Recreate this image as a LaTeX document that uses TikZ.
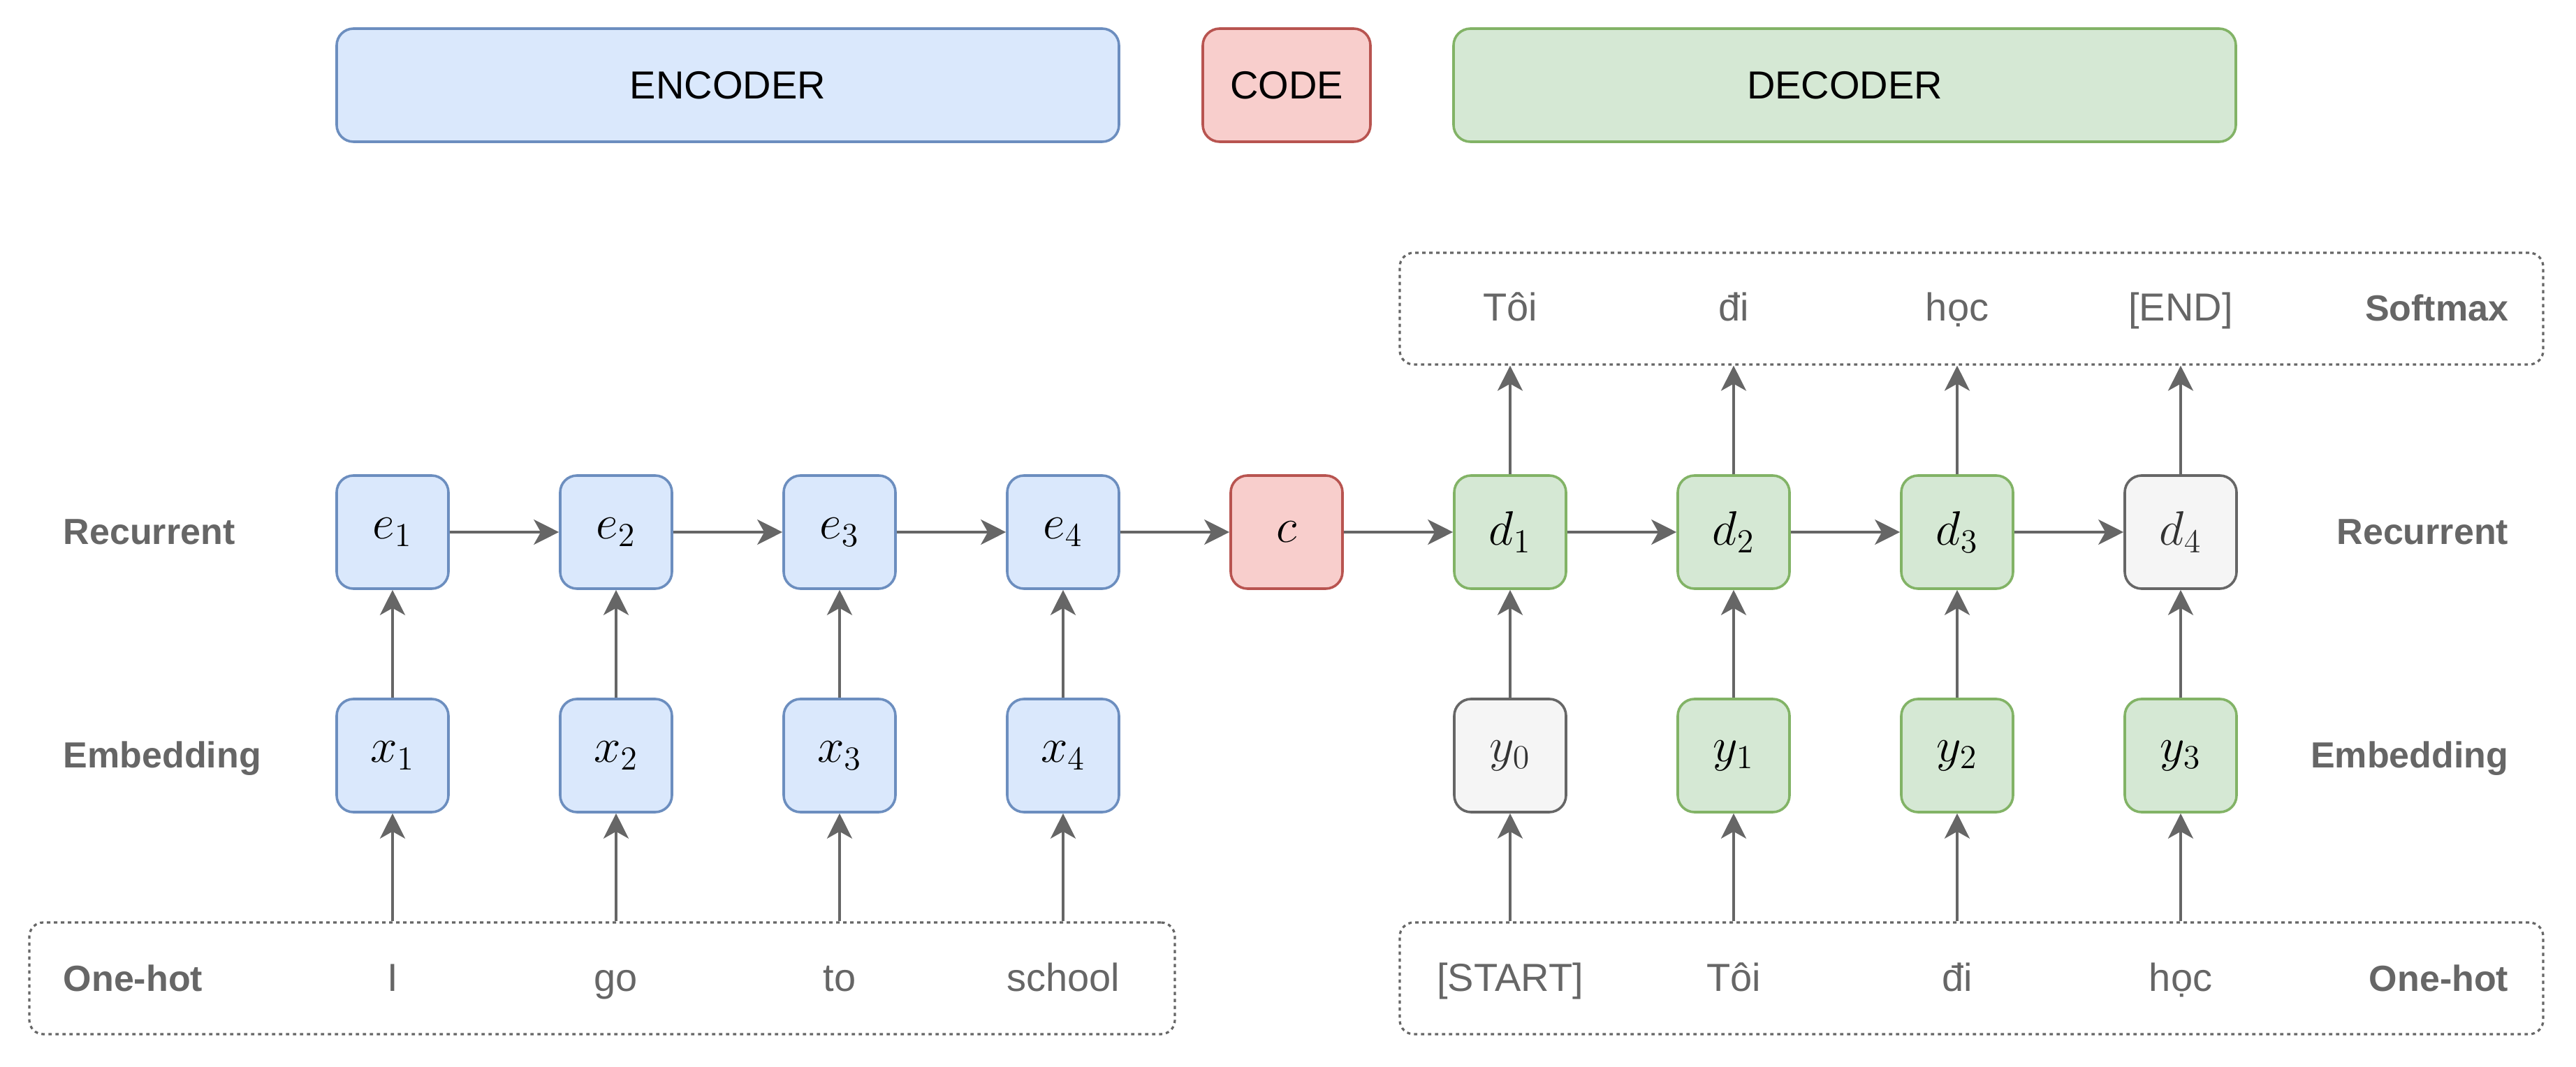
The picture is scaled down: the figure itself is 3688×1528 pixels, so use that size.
\documentclass[tikz,border=0pt]{standalone}
\usepackage[no-math]{fontspec}
\setmainfont{Liberation Sans}
\usetikzlibrary{arrows.meta}
\definecolor{bluefill}{HTML}{DAE8FC}
\definecolor{bluedraw}{HTML}{6C8EBF}
\definecolor{redfill}{HTML}{F8CECC}
\definecolor{reddraw}{HTML}{B85450}
\definecolor{greenfill}{HTML}{D5E8D4}
\definecolor{greendraw}{HTML}{82B366}
\definecolor{greyfill}{HTML}{F5F5F5}
\definecolor{greydraw}{HTML}{666666}
\definecolor{darktext}{HTML}{333333}
\begin{document}
\begin{tikzpicture}[x=0.25pt,y=-0.25pt,line join=round,>={Stealth[length=9pt,width=9pt,inset=2.5pt]}]
	\tikzset{
		cell/.style={draw,rounded corners=6pt,line width=0.9pt,minimum width=40pt,minimum height=40.5pt,inner sep=0pt,font=\fontsize{16.5}{20}\selectfont},
		head/.style={draw,rounded corners=6pt,line width=0.9pt,minimum height=40.5pt,inner sep=0pt,font=\fontsize{14}{16}\selectfont},
		bluebox/.style={fill=bluefill,draw=bluedraw},
		redbox/.style={fill=redfill,draw=reddraw},
		greenbox/.style={fill=greenfill,draw=greendraw},
		greybox/.style={fill=greyfill,draw=greydraw,text=darktext},
		band/.style={draw=greydraw,rounded corners=5pt,line width=0.8pt,dash pattern=on 1.2pt off 1.3pt,minimum height=40pt,inner sep=0pt},
		word/.style={anchor=base,text=greydraw,inner sep=0pt,font=\fontsize{14}{16}\selectfont},
		lab/.style={anchor=base west,text=greydraw,inner sep=0pt,font=\fontsize{13}{15}\selectfont\bfseries},
		labr/.style={lab,anchor=base east},
		link/.style={->,draw=greydraw,line width=1pt}
	}
	\useasboundingbox (0,0) rectangle (3688,1528);
	% Tiêu đề các khối
	\node[head,bluebox,minimum width=280pt] (encoder) at (1042,122) {ENCODER};
	\node[head,redbox,minimum width=60pt] (code) at (1842,122) {CODE};
	\node[head,greenbox,minimum width=280pt] (decoder) at (2641,122) {DECODER};
	% Các dải one-hot và softmax (nét chấm)
	\node[band,minimum width=410pt] (ohL) at (862,1401) {};
	\node[band,minimum width=409.25pt] (ohR) at (2822.5,1401) {};
	\node[band,minimum width=409.25pt] (sm) at (2822.5,442) {};
	% Nhãn các tầng
	\node[lab] (recL) at (90,780) {Recurrent};
	\node[lab] (embL) at (90,1100) {Embedding};
	\node[lab] (ohLab) at (90,1420) {One-hot};
	\node[labr] (smR) at (3592,460) {Softmax};
	\node[labr] (recR) at (3592,780) {Recurrent};
	\node[labr] (embR) at (3592,1100) {Embedding};
	\node[labr] (ohRab) at (3592,1420) {One-hot};
	% Bộ mã hóa
	\foreach \i/\w in {1/I,2/go,3/to,4/school}{
		\node[cell,bluebox] (e\i) at ({242+320*\i},762) {$e_\i$};
		\node[cell,bluebox] (x\i) at ({242+320*\i},1082) {$x_\i$};
		\node[word] (w\i) at ({242+320*\i},1420) {\w};
	}
	\node[cell,redbox] (c) at (1842,762) {$c$};
	% Bộ giải mã
	\node[cell,greenbox] (d1) at (2162,762) {$d_1$};
	\node[cell,greenbox] (d2) at (2482,762) {$d_2$};
	\node[cell,greenbox] (d3) at (2802,762) {$d_3$};
	\node[cell,greybox] (d4) at (3122,762) {$d_4$};
	\node[cell,greybox] (y0) at (2162,1082) {$y_0$};
	\node[cell,greenbox] (y1) at (2482,1082) {$y_1$};
	\node[cell,greenbox] (y2) at (2802,1082) {$y_2$};
	\node[cell,greenbox] (y3) at (3122,1082) {$y_3$};
	\foreach \i/\inp/\out in {1/{[START]}/Tôi,2/Tôi/đi,3/đi/học,4/học/{[END]}}{
		\node[word] (in\i) at ({1842+320*\i},1420) {\inp};
		\node[word] (out\i) at ({1842+320*\i},460) {\out};
	}
	% Mũi tên
	\foreach \a/\b in {e1/e2,e2/e3,e3/e4,e4/c,c/d1,d1/d2,d2/d3,d3/d4}
		\draw[link] (\a) -- (\b);
	\foreach \i in {1,...,4}{
		\draw[link] (x\i |- ohL.north) -- (x\i);
		\draw[link] (x\i) -- (e\i);
		\draw[link] (d\i) -- (d\i |- sm.south);
	}
	\foreach \j/\i in {0/1,1/2,2/3,3/4}{
		\draw[link] (y\j |- ohR.north) -- (y\j);
		\draw[link] (y\j) -- (d\i);
	}
\end{tikzpicture}
\end{document}
